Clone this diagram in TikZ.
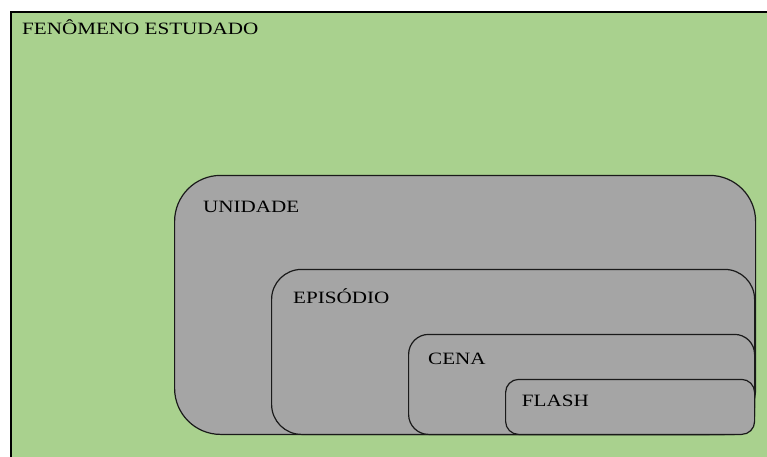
\documentclass[tikz,border=0pt]{standalone}
\usepackage{fontspec}
\setmainfont{Liberation Serif}
\definecolor{bggreen}{HTML}{A9D18E}
\definecolor{boxgray}{HTML}{A5A5A5}
\definecolor{edge}{HTML}{1A1A1A}
\tikzset{
  lvl/.style={draw=edge, fill=boxgray, line width=1.2pt, anchor=south west, inner sep=0pt},
  lbl/.style={anchor=base west, inner sep=0pt, text=black, font=\fontsize{17.3}{20}\selectfont},
}
\newcommand{\wid}[1]{\scalebox{1.22}[1]{#1}}
\begin{document}
\begin{tikzpicture}[x=1pt,y=1pt]
\useasboundingbox (0,0) rectangle (767,456);
\clip (0,0) rectangle (767,456);
\fill[white] (0,0) rectangle (767,456);
\node[draw=black, fill=bggreen, line width=2pt, anchor=north west, inner sep=0pt,
      minimum width=780pt, minimum height=470pt] (fen) at (10,445) {};
\node[lvl, rounded corners=46pt, minimum width=581pt, minimum height=259pt] (unid) at (174,21) {};
\node[lvl, rounded corners=30pt, minimum width=483pt, minimum height=165pt] (epi) at (271,21) {};
\node[lvl, rounded corners=20pt, minimum width=346pt, minimum height=100pt] (cena) at (408,21) {};
\node[lvl, rounded corners=13pt, minimum width=249pt, minimum height=55pt] (flash) at (505,21) {};
\node[lbl] (tfen) at (22,421) {\wid{FENÔMENO ESTUDADO}};
\node[lbl] (tunid) at (203,243.5) {\wid{UNIDADE}};
\node[lbl] (tepi) at (293,152.7) {\wid{EPISÓDIO}};
\node[lbl] (tcena) at (428,92) {\wid{CENA}};
\node[lbl] (tflash) at (521.7,49.3) {\wid{FLASH}};
\end{tikzpicture}
\end{document}
